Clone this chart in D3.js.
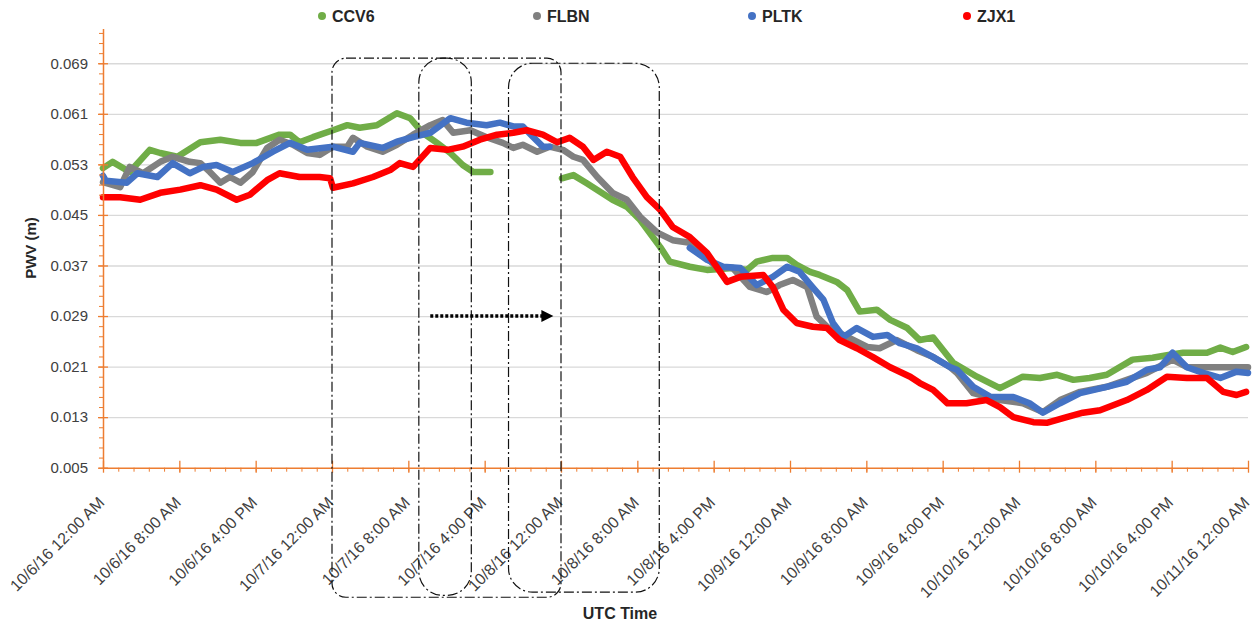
<!DOCTYPE html>
<html>
<head>
<meta charset="utf-8">
<script src="https://cdn.jsdelivr.net/npm/d3@7"></script>
<style>
  body { margin: 0; background: #fff; }
  text { font-family: "Liberation Sans", Arial, sans-serif; }
</style>
</head>
<body>
<div id="chart"></div>
<script>
// series (hours since 10/6/16 00:00 UTC, PWV in m)
const seriesNames = ["CCV6", "FLBN", "PLTK", "ZJX1"];
const seriesColors = ["#70ad47", "#808080", "#4472c4", "#ff0000"];

const ccv6Hours = [0,1.0,2.8,4.9,6.0,7.8,10.2,12.3,14.4,16.1,18.5,19.6,20.6,22.0,24.1,25.6,26.9,28.7,30.8,32.2,33.5,35.0,36.4,37.7,38.8,40.6,
  44,
  48.1,49.3,50.7,53.4,54.9,56.3,58.4,59.4,61.5,63.3,66.0,67.5,68.5,70.2,71.7,72.7,74.1,75.1,76.9,78.0,79.3,81.1,82.5,84.3,85.6,87.0,89.1,91.6,94.0,96.4,98.2,100.0,101.7,103.4,105.2,107.9,110.0,111.5,113.2,115.7,117.1,118.4,119.8];
const ccv6Values = [0.0524,0.0534,0.0518,0.0553,0.0548,0.0542,0.0565,0.0569,0.0564,0.0564,0.0577,0.0577,0.0565,0.0573,0.0584,0.0592,0.0588,0.0592,0.0611,0.0603,0.0580,0.0564,0.0548,0.0529,0.0518,0.0518,
  null,
  0.0508,0.0513,0.0500,0.0474,0.0463,0.0442,0.0399,0.0376,0.0368,0.0363,0.0366,0.0363,0.0376,0.0382,0.0382,0.0371,0.0360,0.0355,0.0344,0.0331,0.0297,0.0300,0.0284,0.0271,0.0252,0.0256,0.0216,0.0194,0.0176,0.0194,0.0192,0.0197,0.0189,0.0192,0.0197,0.0221,0.0224,0.0228,0.0232,0.0232,0.0240,0.0233,0.0241];

const flbnHours = [0,1.8,2.8,4.2,6.0,7.3,9.1,10.2,11.2,12.3,13.3,14.4,15.7,17.2,18.5,19.9,21.4,22.7,24.1,25.6,26.2,27.7,29.3,30.8,32.5,34.3,35.6,36.7,38.5,40.2,41.9,43.0,44.0,45.5,46.8,48.2,49.3,50.3,51.8,53.4,54.9,56.3,58.1,59.7,61.5,64.3,66.0,67.8,69.6,70.9,72.3,73.8,74.8,75.9,78.0,80.1,81.4,83.2,85.3,87.0,88.8,89.5,91.2,94.0,96.4,98.5,100.3,102.4,105.2,107.3,109.4,112.1,113.6,115.7,117.8,120];
const flbnValues = [0.0502,0.0494,0.0526,0.0516,0.0534,0.0542,0.0534,0.0532,0.0518,0.0501,0.0510,0.0501,0.0518,0.0556,0.0569,0.0561,0.0548,0.0545,0.0558,0.0558,0.0572,0.0558,0.0550,0.0561,0.0577,0.0592,0.0600,0.0580,0.0584,0.0573,0.0564,0.0556,0.0561,0.0550,0.0558,0.0553,0.0542,0.0537,0.0510,0.0485,0.0474,0.0447,0.0422,0.0410,0.0406,0.0368,0.0366,0.0336,0.0328,0.0339,0.0347,0.0336,0.0289,0.0273,0.0257,0.0241,0.0239,0.0252,0.0236,0.0225,0.0209,0.0200,0.0168,0.0157,0.0152,0.0138,0.0157,0.0170,0.0178,0.0189,0.0200,0.0221,0.0209,0.0209,0.0209,0.0209];

const pltkHours = [0,0.3,2.5,3.6,5.7,7.3,9.1,10.5,11.9,13.6,15.7,17.8,19.6,21.4,24.1,26.2,26.9,29.3,30.8,32.5,34.3,36.4,38.1,40.2,41.6,43.0,44.0,45.1,46.1,46.8,
  54,
  61.5,63.3,65.0,66.8,68.5,70.2,71.7,73.0,74.4,75.5,76.5,77.6,79.0,80.7,82.2,83.5,85.3,87.0,88.8,89.5,91.2,93.0,95.4,97.1,98.5,100.3,102.4,105.2,107.3,109.4,110.8,112.1,113.6,115.3,117.1,118.8,120];
const pltkValues = [0.0512,0.0504,0.0501,0.0516,0.0510,0.0532,0.0516,0.0526,0.0529,0.0518,0.0532,0.0550,0.0564,0.0553,0.0558,0.0550,0.0564,0.0556,0.0566,0.0573,0.0580,0.0603,0.0596,0.0592,0.0596,0.0590,0.0590,0.0573,0.0558,0.0558,
  null,
  0.0398,0.0379,0.0368,0.0366,0.0339,0.0352,0.0368,0.0360,0.0335,0.0316,0.0279,0.0257,0.0271,0.0257,0.0260,0.0247,0.0239,0.0225,0.0209,0.0205,0.0178,0.0162,0.0162,0.0152,0.0137,0.0152,0.0168,0.0178,0.0186,0.0205,0.0209,0.0232,0.0209,0.0200,0.0192,0.0202,0.0200];

const zjx1Hours = [0,1.8,3.9,6.0,8.1,10.2,11.9,14.0,15.4,17.2,18.5,20.6,22.7,23.8,24.1,26.2,28.3,30.1,31.1,32.5,34.3,36.1,37.7,39.5,41.3,43.0,44.4,46.1,47.6,48.9,50.3,51.4,52.8,54.2,55.5,57.0,58.4,59.7,61.5,63.3,65.4,66.8,69.2,70.2,71.3,72.7,74.4,75.9,77.2,79.0,80.7,82.5,84.6,85.6,87.0,88.5,90.5,92.6,94.0,95.4,97.5,98.9,101.0,102.7,104.5,107.3,109.4,111.5,113.6,115.7,117.4,118.8,119.8];
const zjx1Values = [0.0478,0.0478,0.0474,0.0485,0.0490,0.0497,0.0490,0.0474,0.0482,0.0505,0.0516,0.0510,0.0510,0.0508,0.0493,0.0500,0.0510,0.0521,0.0532,0.0526,0.0556,0.0553,0.0558,0.0569,0.0577,0.0580,0.0584,0.0577,0.0565,0.0572,0.0558,0.0537,0.0550,0.0542,0.0510,0.0478,0.0458,0.0431,0.0415,0.0390,0.0344,0.0352,0.0355,0.0336,0.0300,0.0279,0.0273,0.0271,0.0252,0.0239,0.0225,0.0209,0.0194,0.0184,0.0173,0.0152,0.0152,0.0157,0.0146,0.0130,0.0122,0.0121,0.0130,0.0137,0.0141,0.0157,0.0173,0.0194,0.0192,0.0192,0.0170,0.0165,0.0170];

const yTicks = [0.005, 0.013, 0.021, 0.029, 0.037, 0.045, 0.053, 0.061, 0.069];

// annotation boxes (hours / PWV) and the dotted arrow
const boxHours = [[24, 48], [33.1, 38.6], [42.5, 58.3]];
const boxValues = [[0.0698, -0.0155], [0.0698, -0.0152], [0.0690, -0.0147]];
const arrowHours = [34.3, 47.2];
const arrowValue = 0.029;

const width = 1258, height = 624;
const t0 = new Date(Date.UTC(2016, 9, 6));
const t1 = new Date(Date.UTC(2016, 9, 11));
const toDate = h => new Date(t0.getTime() + h * 3600000);

const x = d3.scaleUtc().domain([t0, t1]).range([103, 1248]);
const y = d3.scaleLinear().domain([0.005, 0.0745]).range([467.7, 28.5]);

const axisColor = "#ed7d31";
const labelColor = "#404040";

const svg = d3.select("#chart").append("svg")
  .attr("width", width)
  .attr("height", height);

// gridlines
svg.append("g")
  .attr("transform", "translate(" + x.range()[0] + ",0)")
  .call(d3.axisLeft(y).tickValues(yTicks.slice(1)).tickSize(-(x.range()[1] - x.range()[0])).tickFormat(""))
  .call(g => g.select(".domain").remove())
  .selectAll("line").attr("stroke", "#d9d9d9").attr("stroke-width", 1.3);

// series lines
const line = d3.line()
  .defined(d => d.v != null)
  .x(d => x(toDate(d.h)))
  .y(d => y(d.v));

const allHours = [ccv6Hours, flbnHours, pltkHours, zjx1Hours];
const allValues = [ccv6Values, flbnValues, pltkValues, zjx1Values];

allHours.forEach(function(hours, i) {
  var pts = hours.map((h, j) => ({ h: h, v: allValues[i][j] }));
  svg.append("path")
    .datum(pts)
    .attr("fill", "none")
    .attr("stroke", seriesColors[i])
    .attr("stroke-width", 6.5)
    .attr("stroke-linejoin", "round")
    .attr("stroke-linecap", "round")
    .attr("d", line);
});

// x axis
const majorDates = d3.range(0, 121, 8).map(toDate);
const minorDates = d3.range(0, 121, 1.6).map(toDate);

svg.append("g")
  .attr("transform", "translate(0," + y.range()[0] + ")")
  .call(d3.axisBottom(x).tickValues(minorDates).tickSize(4).tickFormat(""))
  .call(g => g.select(".domain").remove())
  .selectAll("line").attr("stroke", axisColor);

const xAxis = svg.append("g")
  .attr("transform", "translate(0," + y.range()[0] + ")")
  .call(d3.axisBottom(x).tickValues(majorDates).tickSize(5).tickSizeOuter(0)
    .tickFormat(d3.utcFormat("%-m/%-d/%y %-I:%M %p")));
xAxis.select(".domain").attr("stroke", axisColor).attr("stroke-width", 1.5);
xAxis.selectAll(".tick line").attr("stroke", axisColor).attr("y1", -7).attr("stroke-width", 1.3);
xAxis.selectAll(".tick text")
  .attr("fill", labelColor)
  .style("font-size", "16px")
  .attr("text-anchor", "end")
  .attr("x", 0).attr("y", 0).attr("dy", "0.35em")
  .attr("transform", "translate(-2,32) rotate(-45)");

// y axis
const minorValues = d3.range(0, 44).map(i => 0.005 + i * 0.0016);
svg.append("g")
  .attr("transform", "translate(" + x.range()[0] + ",0)")
  .call(d3.axisLeft(y).tickValues(minorValues).tickSize(4).tickFormat(""))
  .call(g => g.select(".domain").remove())
  .selectAll("line").attr("stroke", axisColor);

const yAxis = svg.append("g")
  .attr("transform", "translate(" + x.range()[0] + ",0)")
  .call(d3.axisLeft(y).tickValues(yTicks).tickSize(5).tickSizeOuter(0).tickFormat(d3.format(".3f")));
yAxis.select(".domain").attr("stroke", axisColor).attr("stroke-width", 1.5);
yAxis.selectAll(".tick line").attr("stroke", axisColor).attr("x2", -5).attr("x1", 5).attr("stroke-width", 1.3);
yAxis.selectAll(".tick text")
  .attr("fill", labelColor)
  .attr("x", -15)
  .style("font-size", "15px");

// axis titles
svg.append("text")
  .attr("x", 620).attr("y", 619)
  .attr("text-anchor", "middle")
  .attr("font-weight", "bold")
  .style("font-size", "16px")
  .attr("fill", "#262626")
  .text("UTC Time");

svg.append("text")
  .attr("transform", "translate(36,248) rotate(-90)")
  .attr("text-anchor", "middle")
  .attr("font-weight", "bold")
  .style("font-size", "15px")
  .attr("fill", "#262626")
  .text("PWV (m)");

// legend
const legend = svg.append("g");
seriesNames.forEach(function(name, i) {
  var lx = 322 + i * 215;
  legend.append("circle").attr("cx", lx).attr("cy", 16).attr("r", 4).attr("fill", seriesColors[i]);
  legend.append("text")
    .attr("x", lx + 10).attr("y", 22)
    .attr("font-weight", "bold")
    .style("font-size", "16px")
    .attr("fill", "#262626")
    .text(name);
});

// annotation boxes
const radii = [14, 24, 24];
boxHours.forEach(function(hh, i) {
  var x0 = x(toDate(hh[0])), x1 = x(toDate(hh[1]));
  var yTop = y(boxValues[i][0]), yBot = y(boxValues[i][1]);
  svg.append("rect")
    .attr("x", x0).attr("y", yTop)
    .attr("width", x1 - x0).attr("height", yBot - yTop)
    .attr("rx", radii[i]).attr("ry", radii[i])
    .attr("fill", "none")
    .attr("stroke", "#111")
    .attr("stroke-width", 1.2)
    .attr("stroke-dasharray", "10,3,2,3");
});

// dotted arrow
const ax0 = x(toDate(arrowHours[0])), ax1 = x(toDate(arrowHours[1])), ay = y(arrowValue);
svg.append("line")
  .attr("x1", ax0).attr("x2", ax1 - 10)
  .attr("y1", ay).attr("y2", ay)
  .attr("stroke", "#000")
  .attr("stroke-width", 3.5)
  .attr("stroke-dasharray", "3,2");
svg.append("path")
  .attr("d", d3.line()([[ax1 - 12, ay - 6], [ax1, ay], [ax1 - 12, ay + 6]]) + "Z")
  .attr("fill", "#000");
</script>
</body>
</html>
